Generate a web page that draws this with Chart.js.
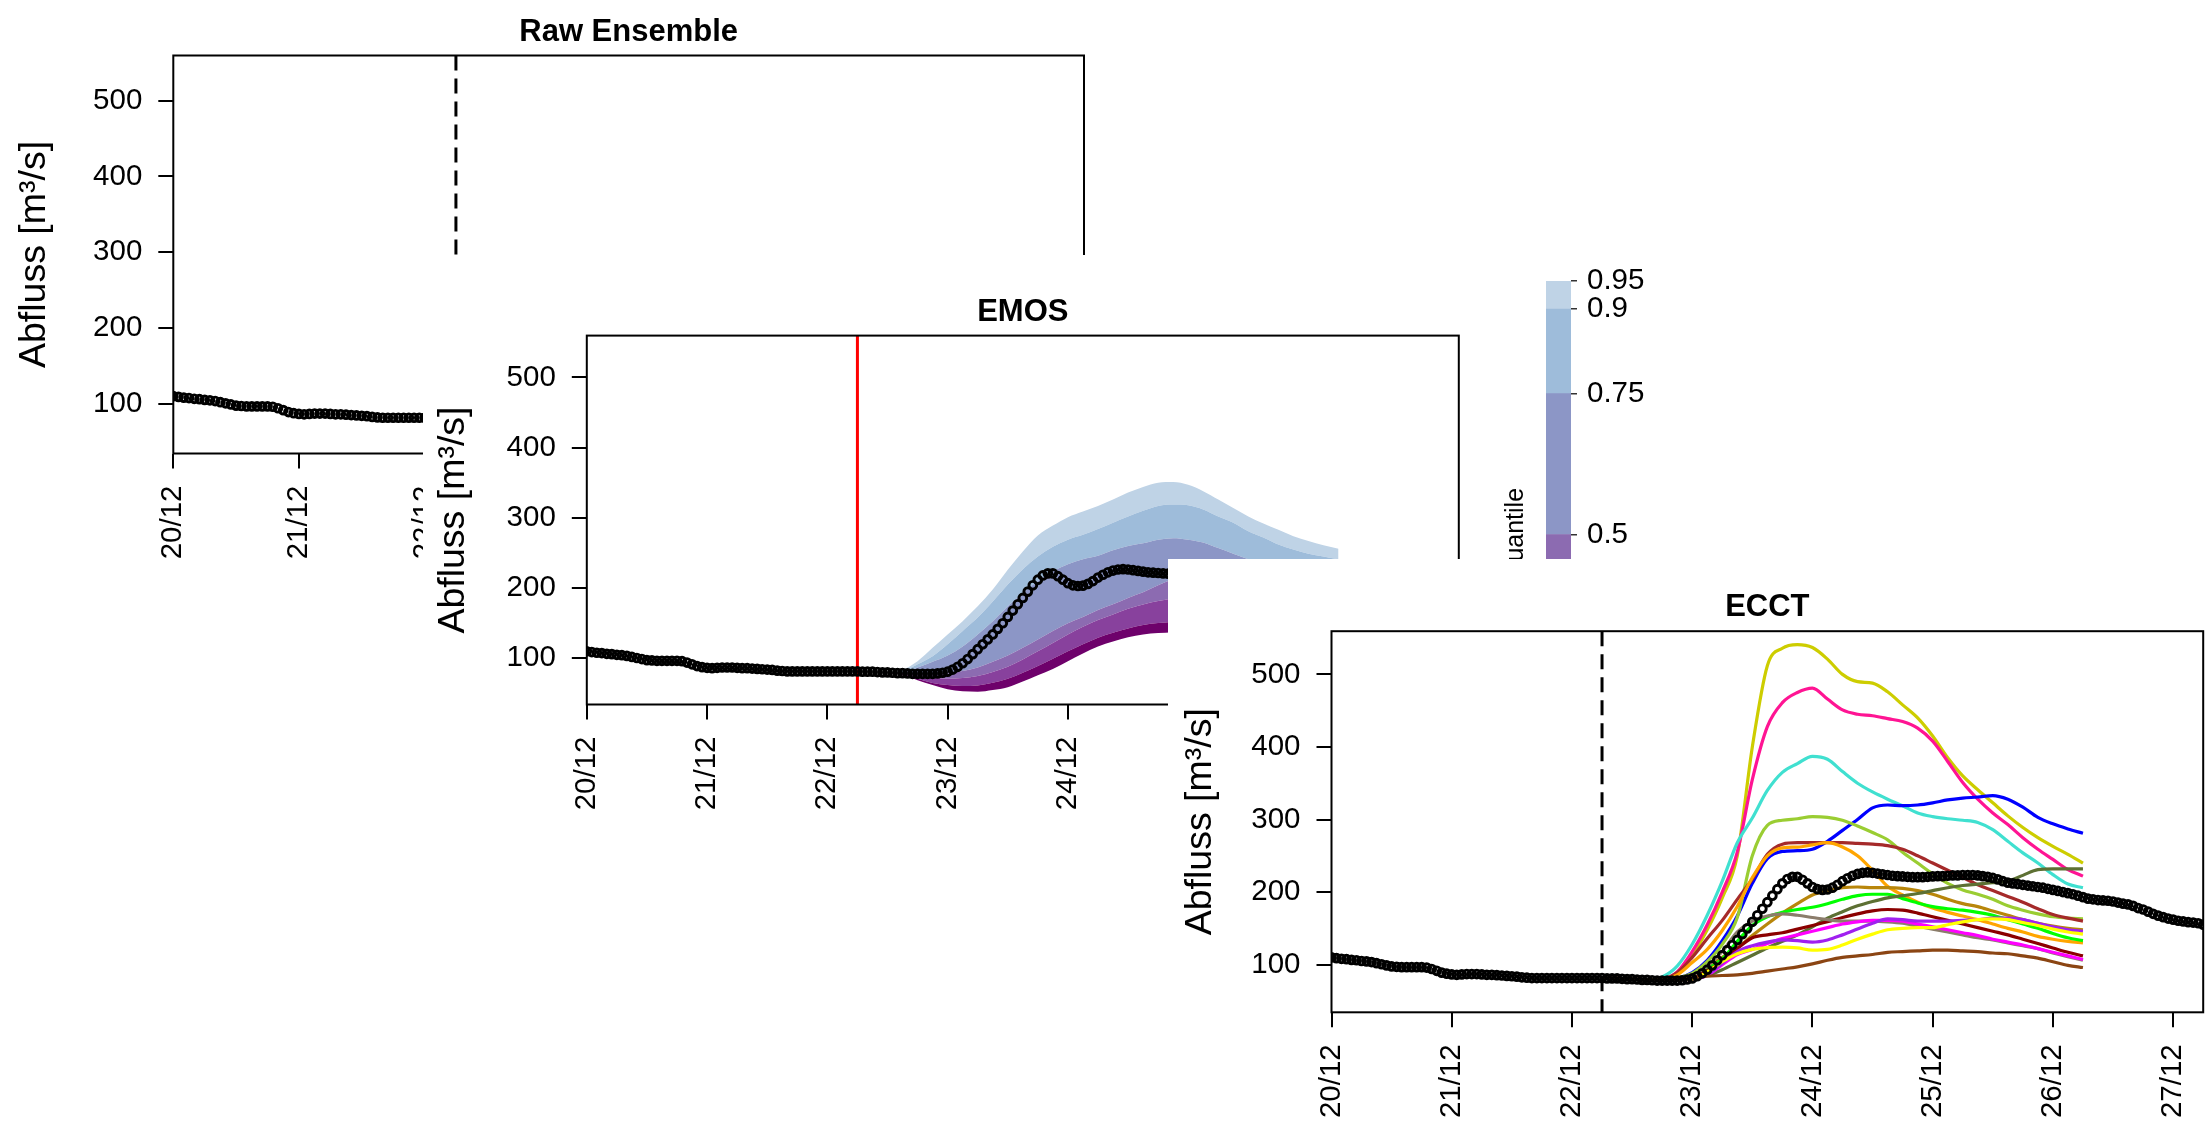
<!DOCTYPE html>
<html>
<head>
<meta charset="utf-8">
<script src="https://cdn.jsdelivr.net/npm/chart.js@4.4.0/dist/chart.umd.min.js"></script>
<style>
  body { margin: 0; background: #fff; overflow: hidden; width: 2212px; height: 1129px; position: relative; }
  canvas { position: absolute; }
</style>
</head>
<body>
<canvas id="rawChart" width="2212" height="1129" style="left:0;top:0"></canvas>
<canvas id="emosChart" width="1789" height="874" style="left:423px;top:255px"></canvas>
<canvas id="quantChart" width="240" height="600" style="left:1470px;top:230px"></canvas>
<canvas id="ecctChart" width="1044" height="570" style="left:1168px;top:559px"></canvas>
<script>
Chart.defaults.font.family = '"Liberation Sans", Arial, sans-serif';
Chart.defaults.color = '#000';

// Axes (x in hours since 20/12 00:00)
const Y_MIN = 34.3, Y_MAX = 559.5;
const X_MAX = 174;
const FORECAST_START = 54;
const dayTicks = [0, 24, 48, 72, 96, 120, 144, 168];
const dayLabels = ['20/12', '21/12', '22/12', '23/12', '24/12', '25/12', '26/12', '27/12'];
const yTicks = [100, 200, 300, 400, 500];

// Beobachteter Abfluss, stündlich
const obsValues = [
  110, 109, 108, 107.5, 106.5, 106, 105, 104.5, 103.5, 102,
  100.5, 99, 97.5, 97, 96.5, 96.5, 96.5, 96.5, 96.5, 96,
  94, 91.5, 89, 87.5, 86.5, 86, 86.5, 87, 87, 87,
  86.5, 86, 86, 85.5, 85, 84.5, 84, 83.5, 82.5, 82,
  81.5, 81.5, 81.5, 81.5, 81.5, 81.5, 81.5, 81.5, 81.5, 81.5,
  81.5, 81.5, 81.5, 81.5, 81.5, 81, 81, 81, 80.5, 80,
  80, 79.5, 79, 79, 78.5, 78, 78, 78, 78, 78,
  78.5, 79.5, 81, 84, 88, 93, 99, 106, 113, 120,
  127, 134, 142, 150, 159, 168, 177, 186, 195, 204,
  212, 218, 221, 221, 217, 212, 207, 204, 203, 203.5,
  206, 210, 215, 219, 222.5, 225, 226.5, 227, 226.5, 225.5,
  224.5, 223.5, 222.5, 222, 221.5, 221, 220.5, 220.5, 220.5, 221,
  221.5, 222, 222, 222.5, 223, 223, 223.5, 223.5, 223.5, 223,
  222, 221, 219.5, 217.5, 215, 213, 212, 211, 210, 209,
  208, 207, 206, 204.5, 203, 201.5, 200, 198.5, 197, 195,
  193, 191, 190, 189, 188.5, 188, 187, 185.5, 184, 183,
  181, 178, 176, 173, 170, 167.5, 165.5, 163.5, 162, 160.5,
  159.5, 158.5, 158, 157, 155
];

// Vorhersagezeitpunkte (3-stündlich)
const leadHours = [54, 57, 60, 63, 66, 69, 72, 75, 78, 81, 84, 87, 90, 93, 96, 99, 102,
  105, 108, 111, 114, 117, 120, 123, 126, 129, 132, 135, 138, 141, 144, 147, 150];

// ECCT Ensemble-Member
const memYellow3 = [81.5, 81, 80, 79, 80, 88, 113, 148, 192, 250, 400, 512, 536, 541, 537, 521, 500, 490, 488, 476, 458, 440, 415, 385, 360, 341, 323, 305, 289, 275, 263, 252, 240];
const memPink = [81.5, 81, 80, 79, 80, 90, 118, 155, 200, 255, 355, 428, 461, 475, 481, 466, 451, 445, 443, 439, 435, 426, 408, 380, 351, 328, 309, 293, 275, 259, 245, 231, 222];
const memTurquoise = [81.5, 81, 80, 79, 83, 98, 128, 168, 215, 268, 302, 340, 365, 377, 387, 383, 366, 350, 338, 328, 319, 309, 304, 301, 299, 296, 286, 270, 254, 240, 224, 211, 206];
const memBlue = [81.5, 81, 80, 79, 79, 81, 89, 106, 133, 167, 212, 246, 256, 257, 259, 270, 285, 300, 316, 320, 319, 320, 323, 327, 329.5, 331, 333, 328, 317, 303, 294, 287, 281];
const memYellowGreen = [81.5, 81, 80, 79, 80, 82, 88, 104, 128, 165, 250, 292, 299, 301, 304, 303, 299, 291, 282, 272, 255, 240, 225, 212, 203, 197, 190, 181, 175, 170, 166, 164, 163];
const memBrown = [81.5, 81, 80, 79, 80, 89, 110, 136, 161, 190, 218, 252, 266, 268, 268, 268, 268, 267, 266, 264, 259, 250, 240, 230, 220, 210, 202, 194, 186, 177, 169, 164, 160];
const memOrange = [81.5, 81, 80, 79, 80, 86, 103, 121, 147, 180, 220, 250, 261, 262, 265, 268, 262, 250, 230, 208, 196, 186, 178, 172, 167, 162, 156, 150, 145, 139, 135, 132, 130];
const memGoldenrod = [81.5, 81, 80, 79, 79, 80, 84, 95, 110, 123, 140, 156, 171, 184, 196, 202, 206, 207, 206, 206, 205, 202, 197, 190, 184, 180, 174, 168, 162, 157, 153, 150, 148];
const memGreen = [81.5, 81, 80, 79, 79, 80, 84, 94, 108, 132, 154, 166, 172, 176, 179, 184, 190, 195, 197, 197, 191, 185, 180, 177, 175, 172, 168, 162, 156, 150, 143, 137, 133];
const memOlive = [81.5, 81, 80, 79, 79, 79, 81, 85, 93, 103, 113, 123, 132, 141, 152, 164, 173, 181, 187, 192, 195, 198, 202, 206, 209, 211, 213, 215, 223, 231, 232, 232, 232];
const memDarkRed = [81.5, 81, 80, 79, 79, 80, 84, 92, 104, 122, 137, 141, 144, 149, 154, 159, 165, 170, 174, 176, 175, 171, 166, 161, 156, 151, 146, 141, 135, 129, 123, 117, 112];
const memGreyBrown = [81.5, 81, 80, 79, 79, 80, 85, 98, 118, 145, 160, 167, 170, 168, 165, 162, 160, 160, 160, 159, 157, 153, 149, 145, 141, 137, 134, 130, 126, 122, 116, 111, 106];
const memMagenta = [81.5, 81, 80, 79, 79, 79, 80, 85, 100, 114, 121, 129, 136, 141, 146, 151, 156, 159, 161, 161, 160, 156, 152, 148, 144, 140, 135, 131, 127, 122, 117, 112, 107];
const memPurple = [81.5, 81, 80, 79, 79, 79, 80, 86, 102, 118, 126, 131, 134, 133, 131, 134, 141, 149, 157, 163, 162, 160, 160, 160, 161, 162, 164, 164, 162, 157, 152, 148, 146];
const memYellow = [81.5, 81, 80, 79, 79, 79, 80, 90, 104, 115, 121, 123.5, 124, 123, 120, 121, 127, 135, 142, 148, 150, 151, 151, 155, 159, 162, 163, 162, 158, 154, 149, 145, 142];
const memSaddleBrown = [81.5, 81, 80, 79, 79, 80, 82, 84, 85, 86, 88, 91, 94, 97, 101, 106, 110, 112, 114, 117, 118, 119, 120, 120, 119, 118, 116, 115, 112, 109, 104, 99, 96];

// EMOS Quantile
const emosQ05 = [81.5, 81, 79, 76, 69, 62, 56, 53, 52.5, 55, 59, 67, 76, 85, 96, 107, 117, 124, 130, 134, 136, 137, 140, 142, 142, 141, 138, 135, 131, 127, 124, 121, 118];
const emosQ10 = [81.5, 81, 79.5, 77.5, 71, 65, 62, 60.6, 61.5, 65.3, 71, 79.6, 89, 99.5, 110, 120, 129.4, 136.5, 142.6, 147.4, 150.2, 152, 156, 159, 160, 159, 156, 152, 148, 144, 140, 137, 134];
const emosQ25 = [81.5, 81, 80, 78.5, 75, 73, 71, 72, 75, 80.5, 88, 98.5, 110, 122, 134, 145, 154.5, 162.6, 170.6, 176.8, 181.5, 186, 192, 196, 197, 196, 193, 189, 184, 179, 174, 170, 166];
const emosQ50 = [81.5, 81, 80, 79, 77.5, 77.5, 78.6, 82, 87, 95, 104, 115, 127, 139, 150, 159, 169, 177, 186, 194, 204, 213, 220, 224, 225, 224, 220, 215, 210, 205, 200, 196, 192];
const emosQ75 = [81.5, 81, 80, 80.5, 87, 95, 104, 117, 134, 153, 174, 193, 210, 224, 234, 241, 246, 254, 260, 264, 269, 271, 269, 265, 257, 249, 241, 234, 227, 221, 216, 212, 210];
const emosQ90 = [81.5, 81, 80.5, 82, 91.5, 103, 120, 139, 158, 181, 205, 227, 245, 259, 269, 276, 284, 293, 302, 310, 317, 319, 318, 312, 302, 293, 281, 272, 262, 255, 249, 245, 241];
const emosQ95 = [81.5, 81, 81, 84, 96, 115, 134, 153, 174, 198, 226, 252, 275, 289, 301, 309, 317, 326, 336, 344, 350, 351, 347, 338, 326, 314, 302, 292, 283, 274, 267, 261, 256];

// Farbskala der Quantile
const quantBands = [[0.05, 0.1], [0.1, 0.25], [0.25, 0.5], [0.5, 0.75], [0.75, 0.9], [0.9, 0.95]];
const bandColors = ['#6e016b', '#88419d', '#8c6bb1', '#8c96c6', '#9ebcda', '#bfd3e6'];
const quantTicks = [0.5, 0.75, 0.9, 0.95];

const members = [
  { values: memSaddleBrown, color: '#8B4513' },
  { values: memYellow, color: '#FFFF00' },
  { values: memPurple, color: '#A020F0' },
  { values: memMagenta, color: '#FF00FF' },
  { values: memGreyBrown, color: '#8B7D6B' },
  { values: memDarkRed, color: '#8B0000' },
  { values: memOlive, color: '#5D7033' },
  { values: memGreen, color: '#00FF00' },
  { values: memGoldenrod, color: '#B8860B' },
  { values: memOrange, color: '#FFA500' },
  { values: memBrown, color: '#A52A2A' },
  { values: memYellowGreen, color: '#9ACD32' },
  { values: memBlue, color: '#0000FF' },
  { values: memTurquoise, color: '#40E0D0' },
  { values: memPink, color: '#FF1493' },
  { values: memYellow3, color: '#CDCD00' }
];

const toPoints = (xs, ys) => ys.map((y, i) => ({ x: xs[i], y: y }));
const obsPoints = obsValues.map((y, i) => ({ x: i, y: y }));

// Hintergrund, Rahmen und Titel
const framePlugin = {
  id: 'frame',
  beforeDraw(chart, args, opts) {
    if (!opts.background) return;
    const ctx = chart.ctx;
    ctx.save();
    ctx.fillStyle = opts.background;
    ctx.fillRect(0, 0, chart.width, chart.height);
    ctx.restore();
  },
  afterDraw(chart, args, opts) {
    if (!opts.box) return;
    const { ctx, chartArea: a } = chart;
    ctx.save();
    ctx.strokeStyle = '#000';
    ctx.lineWidth = 2;
    ctx.strokeRect(a.left, a.top, a.right - a.left, a.bottom - a.top);
    if (opts.title) {
      ctx.fillStyle = '#000';
      ctx.font = 'bold 31px "Liberation Sans", Arial, sans-serif';
      ctx.textAlign = 'center';
      ctx.textBaseline = 'alphabetic';
      ctx.fillText(opts.title, (a.left + a.right) / 2, a.top - 15);
    }
    ctx.restore();
  }
};

function axes(yWidth, xHeight, titlePad) {
  return {
    x: {
      type: 'linear', min: 0, max: X_MAX,
      afterBuildTicks: s => { s.ticks = dayTicks.map(v => ({ value: v })); },
      afterFit: s => { s.height = xHeight; s.paddingLeft = 0; s.paddingRight = 0; },
      ticks: { autoSkip: false, minRotation: 90, maxRotation: 90, padding: 17, font: { size: 29.5 },
        callback: (v, i) => dayLabels[i] },
      grid: { drawOnChartArea: false, tickLength: 15, color: '#000', lineWidth: 2 },
      border: { display: false }
    },
    y: {
      min: Y_MIN, max: Y_MAX,
      afterBuildTicks: s => { s.ticks = yTicks.map(v => ({ value: v })); },
      afterFit: s => { s.width = yWidth; s.paddingTop = 0; s.paddingBottom = 0; },
      ticks: { padding: 16, font: { size: 29.5 } },
      grid: { drawOnChartArea: false, tickLength: 15, color: '#000', lineWidth: 2 },
      border: { display: false },
      title: { display: true, text: 'Abfluss [m³/s]', font: { size: 37.5 }, padding: { top: titlePad, bottom: 0 } }
    }
  };
}

function obsDataset() {
  return {
    data: obsPoints, showLine: false, order: 0,
    pointStyle: 'circle', pointRadius: 3.9, pointBorderWidth: 2.9,
    pointBorderColor: '#000', pointBackgroundColor: 'rgba(0,0,0,0)'
  };
}

function startLine(color, dash) {
  return {
    data: [{ x: FORECAST_START, y: Y_MAX }, { x: FORECAST_START, y: Y_MIN }],
    borderColor: color, borderWidth: 3, borderDash: dash, pointRadius: 0, order: 1
  };
}

function baseOptions(padding, yWidth, xHeight, titlePad, title) {
  return {
    responsive: false, animation: false, events: [],
    layout: { padding: padding },
    plugins: { legend: { display: false }, tooltip: { enabled: false },
      frame: { background: '#fff', box: true, title: title } },
    scales: axes(yWidth, xHeight, titlePad)
  };
}

// Raw Ensemble
new Chart(document.getElementById('rawChart'), {
  type: 'line',
  data: { datasets: [obsDataset(), startLine('#000', [15, 8])] },
  options: baseOptions({ left: 0, top: 55.5, right: 1128, bottom: 545.5 }, 173.3, 130, 12.5, 'Raw Ensemble'),
  plugins: [framePlugin]
});

// EMOS
const fanSeries = [emosQ05, emosQ10, emosQ25, emosQ50, emosQ75, emosQ90, emosQ95];
const fanDatasets = fanSeries.map((vals, i) => ({
  data: toPoints(leadHours, vals),
  borderWidth: 0, pointRadius: 0, cubicInterpolationMode: 'monotone',
  fill: i === 0 ? false : '-1',
  backgroundColor: i === 0 ? 'rgba(0,0,0,0)' : bandColors[i - 1],
  order: 2
}));
new Chart(document.getElementById('emosChart'), {
  type: 'line',
  data: { datasets: [obsDataset(), startLine('#FF0000', []), ...fanDatasets] },
  options: baseOptions({ left: 0, top: 80.6, right: 753.2, bottom: 294.5 }, 163.8, 130, 8.5, 'EMOS'),
  plugins: [framePlugin]
});

// Farbskala
new Chart(document.getElementById('quantChart'), {
  type: 'bar',
  data: {
    labels: [''],
    datasets: quantBands.map((b, i) => ({
      data: [b], backgroundColor: bandColors[i], borderWidth: 0,
      grouped: false, barPercentage: 1, categoryPercentage: 1
    }))
  },
  options: {
    responsive: false, animation: false, events: [],
    layout: { padding: { left: 0, right: 0, top: 51, bottom: 42 } },
    plugins: { legend: { display: false }, tooltip: { enabled: false } },
    scales: {
      x: { display: false },
      yLeft: {
        position: 'left', min: 0.05, max: 0.95,
        ticks: { display: false }, grid: { display: false }, border: { display: false },
        afterFit: s => { s.width = 76; s.paddingTop = 0; s.paddingBottom = 0; },
        title: { display: true, text: 'Quantile', font: { size: 25 }, padding: { top: 31, bottom: 0 } }
      },
      y: {
        position: 'right', min: 0.05, max: 0.95,
        afterBuildTicks: s => { s.ticks = quantTicks.map(v => ({ value: v })); },
        afterFit: s => { s.width = 139; s.paddingTop = 0; s.paddingBottom = 0; },
        ticks: { padding: 10, font: { size: 29.5 }, callback: v => String(v) },
        grid: { drawOnChartArea: false, tickLength: 6, color: '#333', lineWidth: 1.5 },
        border: { display: false }
      }
    }
  }
});

// ECCT
const memberDatasets = members.map(m => ({
  data: toPoints(leadHours, m.values),
  borderColor: m.color, borderWidth: 3.2, pointRadius: 0,
  cubicInterpolationMode: 'monotone', fill: false, order: 2
}));
new Chart(document.getElementById('ecctChart'), {
  type: 'line',
  data: { datasets: [obsDataset(), startLine('#000', [15, 8]), ...memberDatasets] },
  options: baseOptions({ left: 0, top: 72.2, right: 8.8, bottom: 0 }, 163.5, 116.7, 10.2, 'ECCT'),
  plugins: [framePlugin]
});
</script>
</body>
</html>
